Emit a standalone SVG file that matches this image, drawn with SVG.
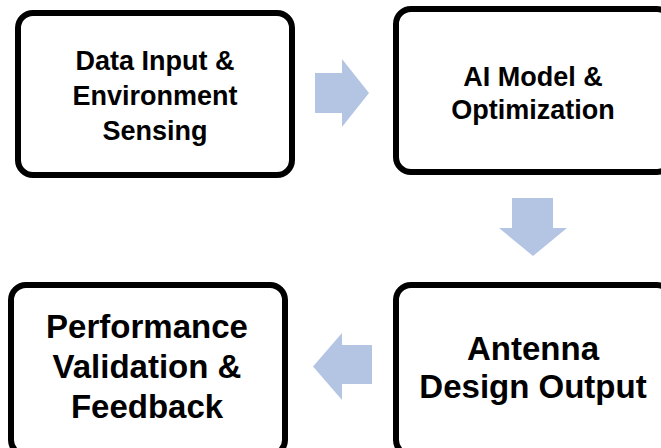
<svg xmlns="http://www.w3.org/2000/svg" width="661" height="448" viewBox="0 0 661 448">
  <style>
    .box { fill: #ffffff; stroke: #000000; stroke-width: 6; }
    .arrow { fill: #b4c5e4; stroke: none; }
    .label { font-family: "Liberation Sans", Arial, sans-serif; font-weight: bold; fill: #000000; text-anchor: middle; }
    .sm { font-size: 27px; }
    .lg { font-size: 33px; }
  </style>
  <rect width="661" height="448" fill="#ffffff"/>

  <!-- connectors: block arrows between the steps -->
  <g id="connectors">
    <polygon class="arrow" points="315,73 342,73 342,59 369,93 342,127 342,113 315,113"/>
    <polygon class="arrow" points="512,198 553,198 553,228 567,228 533,256 499,228 512,228"/>
    <polygon class="arrow" points="372,345 342,345 342,333 313,366.5 342,400 342,384 372,384"/>
  </g>

  <g id="data-input">
    <rect class="box" x="18" y="13" width="274" height="162" rx="15"/>
    <text class="label sm" x="155" y="70">Data Input &amp;</text>
    <text class="label sm" x="155" y="105">Environment</text>
    <text class="label sm" x="155" y="140">Sensing</text>
  </g>

  <g id="ai-model">
    <rect class="box" x="396" y="9" width="276" height="163" rx="15"/>
    <text class="label sm" x="533" y="86">AI Model &amp;</text>
    <text class="label sm" x="533" y="119">Optimization</text>
  </g>

  <g id="antenna-design">
    <rect class="box" x="396" y="285" width="276" height="170" rx="15"/>
    <text class="label lg" x="533" y="360">Antenna</text>
    <text class="label lg" x="533" y="398">Design Output</text>
  </g>

  <g id="performance">
    <rect class="box" x="11" y="285" width="274" height="170" rx="15"/>
    <text class="label lg" x="147" y="338">Performance</text>
    <text class="label lg" x="147" y="378">Validation &amp;</text>
    <text class="label lg" x="147" y="418">Feedback</text>
  </g>
</svg>
